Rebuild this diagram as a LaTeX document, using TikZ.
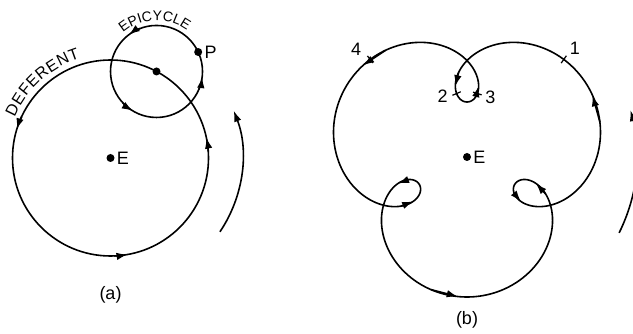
\documentclass[tikz,border=0pt]{standalone}
\usepackage{fontspec}
\setmainfont{Liberation Sans}
\usetikzlibrary{arrows.meta,positioning,calc,decorations.text}
\pgfmathdeclarefunction{trox}{1}{\pgfmathparse{97.5*cos(#1)+42.5*cos(4*(#1)-90)}}
\pgfmathdeclarefunction{troy}{1}{\pgfmathparse{97.5*sin(#1)+42.5*sin(4*(#1)-90)}}
\newcommand{\arcfont}{\fontsize{16}{18}\selectfont}
\newcommand{\epifont}{\fontsize{14}{16}\selectfont}

\begin{document}
\begin{tikzpicture}[
  x=1pt,y=1pt,
  orbit/.style={line width=1.6pt},
  dirtip/.style={
    -{Latex[length=11pt,width=7.5pt]},
    line width=1.6pt
  },
  dot/.style={circle,fill,inner sep=0pt,minimum size=8pt},
  lbl/.style={font=\fontsize{18}{20}\selectfont,inner sep=1pt},
  tickmark/.style={line width=1.2pt}
  ]

  \useasboundingbox (0,0) rectangle (633,334);
  \clip (0,0) rectangle (633,334);

  % (a) deferent and epicycle
  \coordinate (Ea) at (110.5,176);
  \coordinate (C) at ($(Ea)+(62:98)$);
  \draw[orbit] (Ea) circle[radius=98];
  \draw[orbit] (C) circle[radius=46];

  \node[dot] (dotEa) at (Ea) {};
  \node[lbl, right=1pt of dotEa] (labEa) {E};
  \node[dot] (dotC) at (C) {};
  \node[dot] (dotP) at ($(C)+(25:46)$) {};
  \node[lbl, right=1pt of dotP] (labP) {P};

  \foreach \a in {163,280,12}
    \draw[dirtip] ($(Ea)+(\a-8:98)$) arc[start angle=\a-8, end angle=\a, radius=98];
  \foreach \a in {127,239,353}
    \draw[dirtip] ($(C)+(\a-16:46)$) arc[start angle=\a-16, end angle=\a, radius=46];
  \draw[dirtip] ($(Ea)+(-34:132)$) arc[start angle=-34, end angle=21, radius=132];

  \path[decorate, decoration={text along path, text={|\arcfont|DEFERENT},
      text align=fit to path}]
    ($(Ea)+(157:104)$) arc[start angle=157, end angle=107, radius=104];
  \path[decorate, decoration={text along path, text={|\epifont|EPICYCLE},
      text align=fit to path}]
    ($(C)+(131:51)$) arc[start angle=131, end angle=55, radius=51];

  \node[lbl] (capa) at ($(Ea)+(0,-137)$) {(a)};

  % (b) path seen from the earth
  \coordinate (Eb) at (467,177);
  \begin{scope}[shift={(Eb)}]
    \draw[orbit] plot[domain=0:360, samples=361, smooth, variable=\t]
      ({trox(\t)},{troy(\t)}) -- cycle;
    \foreach \t in {28,76,104,144,197,225,268,315,343}
      \draw[dirtip] ({trox(\t-6)},{troy(\t-6)}) -- ({trox(\t)},{troy(\t)});
    \foreach \t/\n in {38/1,80/2,100/3,142/4} {
      \coordinate (k\n) at ({trox(\t)},{troy(\t)});
      \coordinate (k\n b) at ({trox(\t+1)},{troy(\t+1)});
      \draw[tickmark] ($(k\n)!4.5pt!90:(k\n b)$) -- ($(k\n)!4.5pt!-90:(k\n b)$);
    }
  \end{scope}

  \node[lbl] (lab1) at ($(k1)+(11,11)$) {1};
  \node[lbl] (lab2) at ($(k2)+(-14,-3)$) {2};
  \node[lbl] (lab3) at ($(k3)+(13,-4)$) {3};
  \node[lbl] (lab4) at ($(k4)+(-14,10)$) {4};

  \node[dot] (dotEb) at (Eb) {};
  \node[lbl, right=1pt of dotEb] (labEb) {E};
  \draw[dirtip] ($(Eb)+(-26.5:170)$) arc[start angle=-26.5, end angle=16, radius=170];

  \node[lbl] (capb) at ($(Eb)+(0,-163)$) {(b)};

\end{tikzpicture}
\end{document}
